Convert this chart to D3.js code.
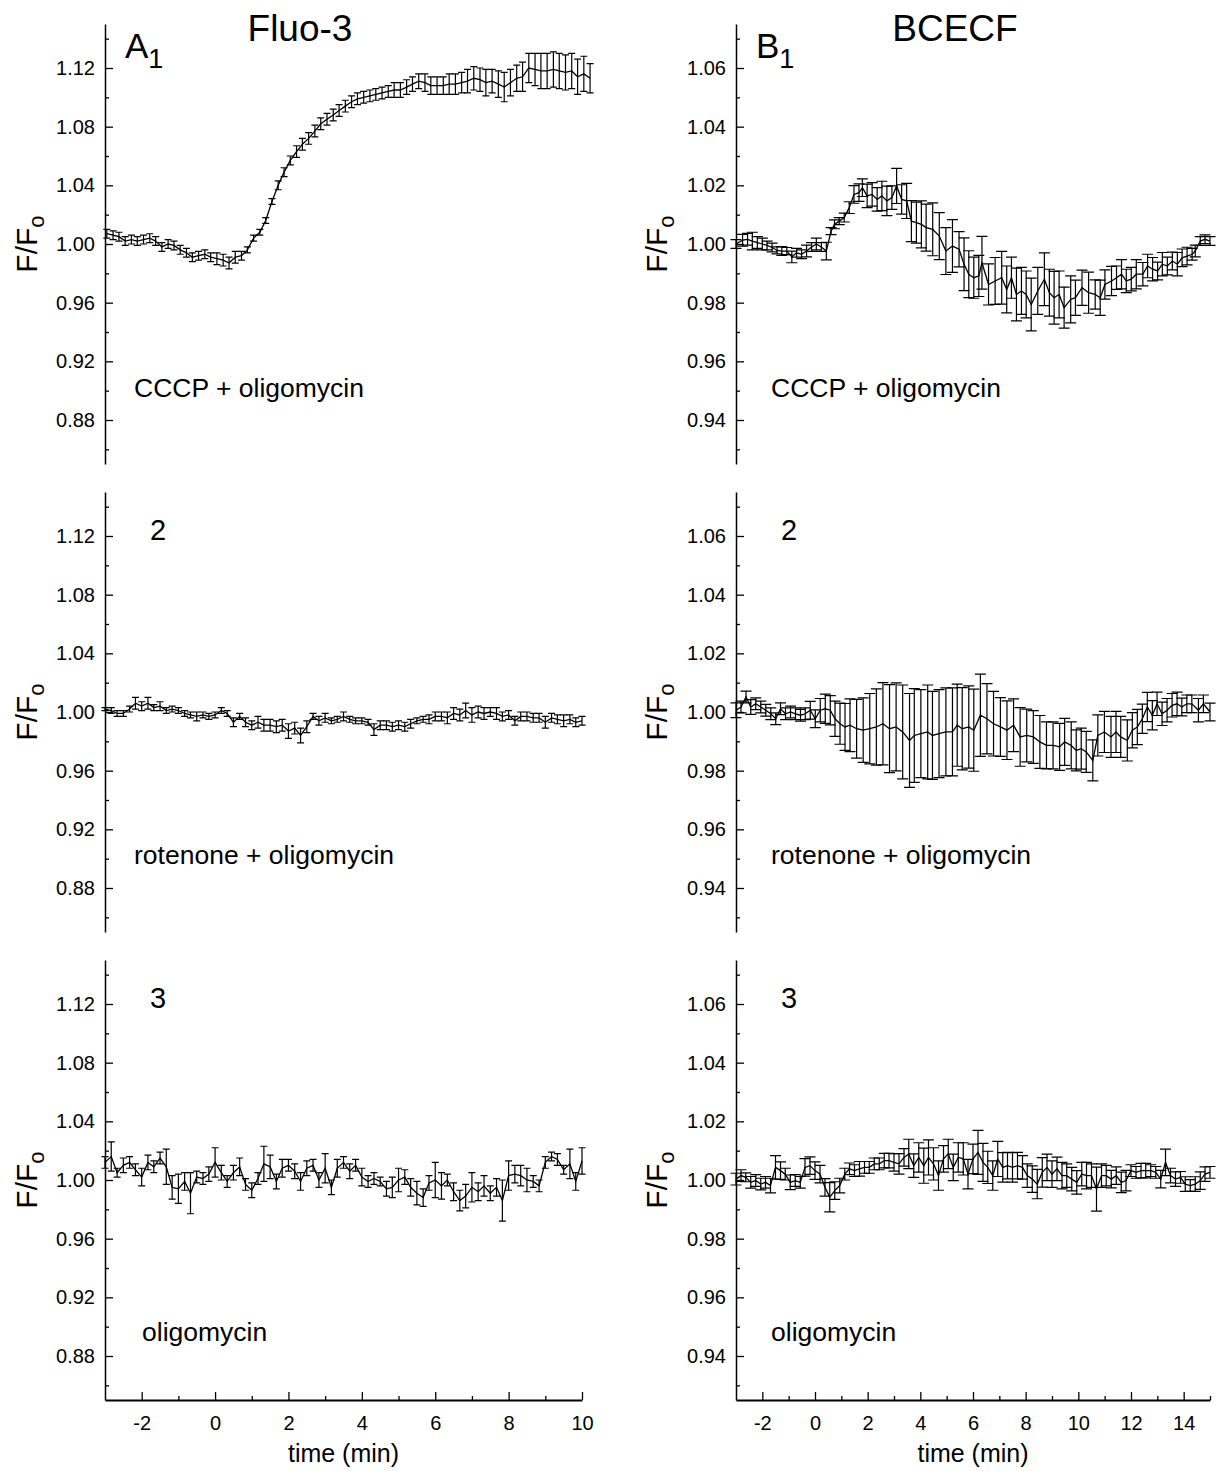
<!DOCTYPE html>
<html>
<head>
<meta charset="utf-8">
<script src="https://cdn.jsdelivr.net/npm/d3@7"></script>
<style>
  body { margin: 0; background: #fff; }
  svg text { font-family: "Liberation Sans", Arial, sans-serif; fill: #000; }
</style>
</head>
<body>
<div id="fig"></div>
<script>
// ---- data ----
// Fluo-3, sampling times (min)
var a1Times = [-2.95,-2.78,-2.62,-2.45,-2.28,-2.12,-1.95,-1.78,-1.62,-1.45,
  -1.28,-1.12,-0.95,-0.78,-0.62,-0.45,-0.28,-0.12,0.05,0.22,
  0.38,0.55,0.72,0.88,1.05,1.22,1.38,1.55,1.72,1.88,
  2.05,2.22,2.38,2.55,2.72,2.88,3.05,3.22,3.38,3.55,
  3.72,3.88,4.05,4.22,4.38,4.55,4.72,4.88,5.05,5.22,
  5.38,5.55,5.72,5.88,6.05,6.22,6.38,6.55,6.72,6.88,
  7.05,7.22,7.38,7.55,7.72,7.88,8.05,8.22,8.38,8.55,
  8.72,8.88,9.05,9.22,9.38,9.55,9.72,9.88,10.05,10.22];
var fluoTimes = [-3,-2.83,-2.67,-2.5,-2.33,-2.17,-2,-1.83,-1.67,-1.5,
  -1.33,-1.17,-1,-0.83,-0.67,-0.5,-0.33,-0.17,0,0.17,
  0.33,0.5,0.67,0.83,1,1.17,1.33,1.5,1.67,1.83,
  2,2.17,2.33,2.5,2.67,2.83,3,3.17,3.33,3.5,
  3.67,3.83,4,4.17,4.33,4.5,4.67,4.83,5,5.17,
  5.33,5.5,5.67,5.83,6,6.17,6.33,6.5,6.67,6.83,
  7,7.17,7.33,7.5,7.67,7.83,8,8.17,8.33,8.5,
  8.67,8.83,9,9.17,9.33,9.5,9.67,9.83,10];

var a1Mean = [1.007,1.006,1.005,1.002,1.003,1.002,1.003,1.004,1.002,0.998,
  1.000,0.999,0.996,0.994,0.991,0.992,0.993,0.991,0.990,0.989,
  0.987,0.991,0.992,0.996,1.004,1.008,1.016,1.029,1.040,1.049,
  1.057,1.063,1.068,1.072,1.077,1.082,1.085,1.088,1.091,1.094,
  1.097,1.099,1.100,1.101,1.102,1.103,1.104,1.105,1.105,1.107,
  1.109,1.111,1.110,1.108,1.108,1.108,1.109,1.109,1.110,1.111,
  1.113,1.112,1.110,1.111,1.109,1.107,1.110,1.113,1.114,1.120,
  1.119,1.118,1.118,1.119,1.118,1.117,1.118,1.114,1.116,1.113];
var a1Sem = [0.003,0.003,0.003,0.003,0.003,0.003,0.003,0.003,0.003,0.003,
  0.003,0.003,0.003,0.003,0.003,0.003,0.003,0.003,0.004,0.004,
  0.004,0.004,0.003,0.002,0.002,0.002,0.002,0.002,0.003,0.003,
  0.003,0.004,0.004,0.004,0.004,0.004,0.004,0.004,0.004,0.004,
  0.004,0.004,0.004,0.004,0.004,0.004,0.004,0.005,0.005,0.005,
  0.005,0.005,0.006,0.006,0.006,0.006,0.007,0.007,0.007,0.008,
  0.008,0.008,0.009,0.008,0.009,0.010,0.009,0.009,0.010,0.010,
  0.011,0.012,0.012,0.012,0.012,0.012,0.012,0.012,0.012,0.010];

var a2Mean = [1.002,1.001,0.999,0.999,1.002,1.006,1.004,1.006,1.003,1.004,
  1.001,1.002,1.001,0.999,0.998,0.997,0.998,0.997,0.998,1.001,
  0.999,0.993,0.997,0.993,0.991,0.993,0.991,0.991,0.990,0.991,
  0.987,0.989,0.984,0.990,0.997,0.994,0.996,0.994,0.995,0.997,
  0.995,0.994,0.994,0.993,0.988,0.991,0.991,0.990,0.991,0.990,
  0.992,0.994,0.995,0.995,0.997,0.997,0.996,0.999,0.998,1.001,
  0.998,1.000,0.999,1.000,0.999,0.997,0.998,0.994,0.997,0.997,
  0.996,0.996,0.993,0.996,0.995,0.994,0.995,0.993,0.994];
var a2Sem = [0.001,0.002,0.002,0.002,0.002,0.004,0.003,0.004,0.002,0.003,
  0.002,0.002,0.002,0.002,0.002,0.003,0.002,0.002,0.002,0.002,
  0.002,0.003,0.002,0.003,0.003,0.004,0.004,0.004,0.004,0.004,
  0.005,0.004,0.005,0.004,0.002,0.003,0.003,0.002,0.002,0.003,
  0.002,0.002,0.002,0.002,0.004,0.003,0.003,0.003,0.003,0.003,
  0.003,0.002,0.002,0.003,0.003,0.003,0.004,0.004,0.004,0.005,
  0.005,0.004,0.004,0.003,0.004,0.003,0.003,0.003,0.003,0.003,
  0.003,0.003,0.004,0.003,0.003,0.004,0.003,0.003,0.003];

var a3Mean = [1.012,1.016,1.005,1.010,1.012,1.007,1.002,1.012,1.009,1.015,
  1.009,0.995,0.994,0.999,0.991,1.002,1.001,1.004,1.012,1.005,
  0.999,1.005,1.009,0.997,0.993,1.001,1.011,1.009,0.999,1.008,
  1.010,1.006,0.999,1.008,1.010,1.000,1.008,0.995,1.008,1.012,
  1.006,1.010,1.002,0.999,1.001,0.999,0.994,0.995,1.000,1.002,
  0.995,0.991,0.988,0.998,1.000,0.996,1.000,0.992,0.986,0.989,
  0.995,0.992,0.996,0.991,0.995,0.986,1.003,1.004,1.003,1.000,
  0.999,0.996,1.012,1.016,1.014,1.007,1.011,0.999,1.013];
var a3Sem = [0.004,0.010,0.003,0.005,0.004,0.004,0.006,0.005,0.004,0.004,
  0.012,0.008,0.010,0.006,0.014,0.004,0.004,0.005,0.010,0.005,
  0.004,0.005,0.006,0.004,0.005,0.004,0.012,0.008,0.005,0.006,
  0.004,0.005,0.006,0.005,0.004,0.005,0.010,0.005,0.006,0.004,
  0.005,0.004,0.006,0.004,0.004,0.003,0.005,0.007,0.008,0.005,
  0.006,0.008,0.006,0.005,0.012,0.009,0.004,0.006,0.007,0.008,
  0.010,0.006,0.007,0.005,0.006,0.014,0.010,0.006,0.007,0.008,
  0.004,0.004,0.004,0.003,0.004,0.003,0.010,0.006,0.009];

// BCECF
var b1Times = [-3.00,-2.75,-2.56,-2.38,-2.19,-2.00,-1.82,-1.63,-1.44,-1.26,
  -1.07,-0.88,-0.70,-0.51,-0.32,-0.13,0.05,0.24,0.43,0.61,
  0.74,0.92,1.11,1.30,1.48,1.67,1.80,1.98,2.17,2.36,
  2.54,2.73,2.92,3.10,3.29,3.48,3.66,3.85,4.04,4.22,
  4.47,4.72,4.97,5.22,5.47,5.66,5.84,6.03,6.22,6.34,
  6.59,6.84,7.09,7.28,7.46,7.65,7.84,8.02,8.21,8.46,
  8.71,8.90,9.08,9.27,9.46,9.71,9.89,10.14,10.39,10.64,
  10.83,11.01,11.26,11.45,11.64,11.82,12.01,12.20,12.45,12.63,
  12.82,13.01,13.19,13.38,13.57,13.76,13.94,14.13,14.32,14.44,
  14.63,14.81,15.00];
var b1Mean = [1.0000,1.0013,1.0016,1.0010,1.0005,1.0000,0.9995,0.9988,0.9978,0.9976,
  0.9976,0.9956,0.9970,0.9965,0.9976,0.9990,1.0000,0.9990,0.9976,1.0044,
  1.0067,1.0078,1.0090,1.0124,1.0169,1.0175,1.0192,1.0164,1.0169,1.0152,
  1.0164,1.0147,1.0158,1.0198,1.0152,1.0147,1.0078,1.0073,1.0067,1.0056,
  1.0050,1.0027,0.9976,0.9993,0.9982,0.9931,0.9897,0.9885,0.9891,0.9936,
  0.9862,0.9874,0.9885,0.9845,0.9885,0.9828,0.9840,0.9828,0.9794,0.9840,
  0.9880,0.9834,0.9817,0.9828,0.9783,0.9811,0.9817,0.9851,0.9834,0.9828,
  0.9817,0.9862,0.9874,0.9885,0.9897,0.9874,0.9880,0.9897,0.9897,0.9925,
  0.9914,0.9908,0.9931,0.9925,0.9942,0.9931,0.9953,0.9959,0.9965,0.9976,
  1.0010,1.0016,1.0010];
var b1Sem = [0.0015,0.002,0.002,0.003,0.002,0.002,0.0015,0.0015,0.0012,0.0015,
  0.0012,0.002,0.0015,0.0015,0.002,0.0015,0.002,0.0015,0.003,0.0012,
  0.0015,0.0012,0.0015,0.002,0.003,0.003,0.003,0.004,0.004,0.004,
  0.005,0.005,0.004,0.006,0.005,0.006,0.007,0.007,0.008,0.008,
  0.009,0.008,0.008,0.009,0.006,0.009,0.008,0.007,0.007,0.009,
  0.007,0.008,0.009,0.008,0.007,0.009,0.008,0.008,0.009,0.008,
  0.009,0.008,0.009,0.008,0.007,0.008,0.006,0.006,0.007,0.005,
  0.006,0.005,0.005,0.004,0.005,0.004,0.004,0.005,0.004,0.004,
  0.004,0.003,0.004,0.003,0.003,0.004,0.003,0.003,0.002,0.002,
  0.0015,0.0015,0.0015];

var b2Times = [-3.00,-2.81,-2.62,-2.44,-2.25,-2.06,-1.87,-1.68,-1.49,-1.31,
  -1.12,-0.93,-0.74,-0.55,-0.37,-0.18,0.01,0.20,0.39,0.58,
  0.76,0.95,1.14,1.33,1.58,1.83,2.08,2.33,2.58,2.83,
  3.08,3.33,3.59,3.77,4.02,4.28,4.46,4.71,4.97,5.22,
  5.40,5.59,5.84,6.03,6.28,6.53,6.78,7.04,7.29,7.54,
  7.79,8.04,8.29,8.54,8.79,9.04,9.29,9.48,9.73,9.92,
  10.11,10.30,10.55,10.74,10.99,11.24,11.43,11.61,11.86,12.05,
  12.24,12.43,12.62,12.81,12.99,13.18,13.37,13.56,13.75,13.93,
  14.12,14.31,14.56,14.75,15.00];
var b2Mean = [1.0006,1.0017,1.0051,1.0017,1.0028,1.0017,1.0006,0.9994,0.9977,1.0011,
  0.9994,1.0000,0.9994,0.9989,0.9994,1.0006,0.9977,1.0006,1.0011,1.0006,
  0.9977,0.9960,0.9949,0.9955,0.9943,0.9938,0.9943,0.9949,0.9960,0.9943,
  0.9949,0.9932,0.9903,0.9920,0.9926,0.9932,0.9920,0.9926,0.9932,0.9932,
  0.9955,0.9943,0.9949,0.9938,0.9989,0.9977,0.9960,0.9949,0.9938,0.9955,
  0.9915,0.9920,0.9915,0.9898,0.9886,0.9886,0.9881,0.9898,0.9886,0.9869,
  0.9875,0.9864,0.9835,0.9920,0.9932,0.9915,0.9932,0.9915,0.9903,0.9938,
  0.9949,0.9977,1.0017,0.9989,1.0028,0.9994,1.0006,1.0023,1.0028,1.0017,
  1.0028,1.0028,1.0006,1.0028,1.0000];
var b2Sem = [0.0025,0.002,0.002,0.0025,0.002,0.002,0.002,0.002,0.002,0.002,
  0.002,0.002,0.002,0.002,0.002,0.003,0.003,0.004,0.005,0.005,
  0.006,0.007,0.008,0.009,0.010,0.011,0.012,0.013,0.014,0.015,
  0.015,0.016,0.016,0.016,0.015,0.016,0.015,0.015,0.015,0.015,
  0.014,0.014,0.014,0.014,0.014,0.012,0.011,0.010,0.010,0.009,
  0.010,0.009,0.009,0.009,0.008,0.008,0.008,0.008,0.008,0.007,
  0.007,0.007,0.007,0.007,0.007,0.007,0.007,0.007,0.007,0.006,
  0.006,0.005,0.005,0.005,0.004,0.004,0.004,0.004,0.004,0.003,
  0.003,0.003,0.004,0.003,0.003];

var b3Times = [-3.00,-2.81,-2.63,-2.44,-2.25,-2.06,-1.88,-1.69,-1.50,-1.31,
  -1.13,-0.94,-0.75,-0.56,-0.38,-0.19,0.00,0.19,0.38,0.56,
  0.75,0.94,1.13,1.31,1.50,1.69,1.88,2.06,2.25,2.44,
  2.63,2.81,3.00,3.19,3.38,3.56,3.75,3.94,4.13,4.31,
  4.50,4.69,4.88,5.06,5.25,5.44,5.63,5.81,6.00,6.19,
  6.38,6.56,6.75,6.94,7.13,7.31,7.50,7.69,7.88,8.06,
  8.25,8.44,8.63,8.81,9.00,9.19,9.38,9.56,9.75,9.94,
  10.13,10.31,10.50,10.69,10.88,11.06,11.25,11.44,11.63,11.81,
  12.00,12.19,12.38,12.56,12.75,12.94,13.13,13.31,13.50,13.69,
  13.88,14.06,14.25,14.44,14.63,14.81,15.00];
var b3Mean = [1.0003,1.0015,1.0009,0.9992,0.9998,0.9986,0.9992,0.9981,1.0043,1.0032,
  1.0020,0.9992,0.9998,0.9992,1.0043,1.0049,1.0032,1.0020,0.9975,0.9941,
  0.9964,0.9981,1.0020,1.0038,1.0032,1.0038,1.0043,1.0043,1.0055,1.0055,
  1.0066,1.0066,1.0060,1.0055,1.0077,1.0089,1.0049,1.0077,1.0049,1.0077,
  1.0055,1.0015,1.0072,1.0089,1.0043,1.0077,1.0072,1.0020,1.0072,1.0094,
  1.0060,1.0043,1.0015,1.0072,1.0043,1.0049,1.0043,1.0049,1.0043,1.0015,
  1.0003,0.9986,1.0026,1.0043,1.0020,1.0038,1.0015,1.0015,1.0003,0.9992,
  1.0020,1.0015,1.0015,0.9969,1.0015,1.0015,1.0003,1.0015,0.9992,0.9998,
  1.0032,1.0026,1.0032,1.0032,1.0032,1.0026,1.0003,1.0060,1.0015,1.0003,
  1.0009,0.9986,0.9981,0.9986,0.9998,1.0020,1.0026];
var b3Sem = [0.0020,0.0020,0.0015,0.0020,0.0020,0.0020,0.0020,0.0025,0.0040,0.0030,
  0.0020,0.0025,0.0020,0.0020,0.0030,0.0030,0.0030,0.0030,0.0030,0.0050,
  0.0030,0.0025,0.0020,0.0020,0.0020,0.0025,0.0020,0.0020,0.0020,0.0020,
  0.0025,0.0025,0.0030,0.0035,0.0030,0.0050,0.0040,0.0050,0.0060,0.0060,
  0.0055,0.0050,0.0045,0.0050,0.0045,0.0050,0.0055,0.0050,0.0050,0.0075,
  0.0065,0.0055,0.0050,0.0060,0.0050,0.0045,0.0050,0.0045,0.0040,0.0040,
  0.0045,0.0050,0.0050,0.0045,0.0045,0.0040,0.0045,0.0040,0.0040,0.0040,
  0.0040,0.0045,0.0040,0.0075,0.0040,0.0035,0.0030,0.0030,0.0035,0.0035,
  0.0020,0.0020,0.0025,0.0025,0.0020,0.0020,0.0030,0.0045,0.0025,0.0025,
  0.0020,0.0025,0.0020,0.0025,0.0030,0.0025,0.0020];

// axis ticks
var fluoTicks = [0.88, 0.92, 0.96, 1.00, 1.04, 1.08, 1.12];
var fluoMinor = [0.86, 0.90, 0.94, 0.98, 1.02, 1.06, 1.10, 1.14];
var bcecfTicks = [0.94, 0.96, 0.98, 1.00, 1.02, 1.04, 1.06];
var bcecfMinor = [0.93, 0.95, 0.97, 0.99, 1.01, 1.03, 1.05, 1.07];
var fluoTimeTicks = [-2, 0, 2, 4, 6, 8, 10];
var fluoTimeMinor = [-1, 1, 3, 5, 7, 9];
var bcecfTimeTicks = [-2, 0, 2, 4, 6, 8, 10, 12, 14];
var bcecfTimeMinor = [-1, 1, 3, 5, 7, 9, 11, 13, 15];

var dyes = ["Fluo-3", "BCECF"];
var treatments = ["CCCP + oligomycin", "rotenone + oligomycin", "oligomycin"];

// ---- layout ----
var width = 1221, height = 1471;
var rowTop = [24, 492, 960], rowH = 440;
var cols = [
  { x0: 105, x1: 582, xDomain: [-3, 10], yDomain: [0.85, 1.15], ticks: fluoTicks, minor: fluoMinor,
    tTicks: fluoTimeTicks, tMinor: fluoTimeMinor, cap: 3.5, letter: "A", title: dyes[0], titleX: 300,
    ylabX: 37, annX: [134, 134, 142] },
  { x0: 736, x1: 1210, xDomain: [-3, 15], yDomain: [0.925, 1.075], ticks: bcecfTicks, minor: bcecfMinor,
    tTicks: bcecfTimeTicks, tMinor: bcecfTimeMinor, cap: 5.5, letter: "B", title: dyes[1], titleX: 955,
    ylabX: 667, annX: [771, 771, 771] }
];
var series = [
  [[a1Times, a1Mean, a1Sem], [fluoTimes, a2Mean, a2Sem], [fluoTimes, a3Mean, a3Sem]],
  [[b1Times, b1Mean, b1Sem], [b2Times, b2Mean, b2Sem], [b3Times, b3Mean, b3Sem]]
];
var annY = [397, 864, 1341];

var svg = d3.select("#fig").append("svg")
  .attr("width", width)
  .attr("height", height);

cols.forEach(function (c, ci) {
  var x = d3.scaleLinear().domain(c.xDomain).range([c.x0, c.x1]);

  rowTop.forEach(function (top, ri) {
    var y = d3.scaleLinear().domain(c.yDomain).range([top + rowH, top]);
    var g = svg.append("g");

    // y axis, ticks pointing inward
    g.append("g")
      .attr("transform", "translate(" + c.x0 + ",0)")
      .call(d3.axisLeft(y).tickValues(c.ticks).tickSizeInner(-8).tickSizeOuter(0)
        .tickPadding(10).tickFormat(d3.format(".2f")))
      .call(function (a) {
        a.select(".domain").attr("stroke-width", 1.5);
        a.selectAll(".tick line").attr("stroke-width", 1.3);
        a.selectAll("text").attr("font-size", 20).attr("font-family", null);
      });
    g.append("g")
      .attr("transform", "translate(" + c.x0 + ",0)")
      .call(d3.axisLeft(y).tickValues(c.minor).tickSize(-4).tickFormat(""))
      .call(function (a) {
        a.select(".domain").remove();
        a.selectAll(".tick line").attr("stroke-width", 1.3);
      });

    // x axis only on the bottom row
    if (ri === 2) {
      g.append("g")
        .attr("transform", "translate(0," + (top + rowH) + ")")
        .call(d3.axisBottom(x).tickValues(c.tTicks).tickSizeInner(-8).tickSizeOuter(0)
          .tickPadding(16).tickFormat(function (d) { return String(d); }))
        .call(function (a) {
          a.select(".domain").attr("stroke-width", 2);
          a.selectAll(".tick line").attr("stroke-width", 1.3);
          a.selectAll("text").attr("font-size", 20).attr("font-family", null);
        });
      g.append("g")
        .attr("transform", "translate(0," + (top + rowH) + ")")
        .call(d3.axisBottom(x).tickValues(c.tMinor).tickSize(-4).tickFormat(""))
        .call(function (a) {
          a.select(".domain").remove();
          a.selectAll(".tick line").attr("stroke-width", 1.3);
        });
      g.append("text")
        .attr("x", (c.x0 + c.x1) / 2)
        .attr("y", 1462)
        .attr("text-anchor", "middle")
        .attr("font-size", 25)
        .text("time (min)");
    }

    // y label F/Fo
    var yl = g.append("text")
      .attr("transform", "translate(" + c.ylabX + "," + (top + rowH / 2) + ") rotate(-90)")
      .attr("text-anchor", "middle")
      .attr("font-size", 30);
    yl.append("tspan").text("F/F");
    yl.append("tspan").attr("font-size", 22).attr("dy", 7).text("o");

    // data
    var s = series[ci][ri];
    var pts = s[0].map(function (t, i) { return { t: t, m: s[1][i], e: s[2][i] }; });

    var bars = g.append("g").attr("stroke", "#000").attr("stroke-width", 1.2).attr("fill", "none");
    bars.selectAll("path")
      .data(pts)
      .enter()
      .append("path")
      .attr("d", function (d) {
        var px = x(d.t), hi = y(d.m + d.e), lo = y(d.m - d.e);
        return "M" + px + "," + hi + "V" + lo +
          "M" + (px - c.cap) + "," + hi + "H" + (px + c.cap) +
          "M" + (px - c.cap) + "," + lo + "H" + (px + c.cap);
      });

    g.append("path")
      .datum(pts)
      .attr("fill", "none")
      .attr("stroke", "#000")
      .attr("stroke-width", 1.3)
      .attr("d", d3.line().x(function (d) { return x(d.t); }).y(function (d) { return y(d.m); }));

    // treatment annotation
    g.append("text")
      .attr("x", c.annX[ri])
      .attr("y", annY[ri])
      .attr("font-size", 26.5)
      .text(treatments[ri]);

    // panel label
    var pl = g.append("text")
      .attr("x", ri === 0 ? c.x0 + 20 : c.x0 + 45)
      .attr("y", ri === 0 ? top + 34 : top + 48)
      .attr("font-size", ri === 0 ? 35 : 29);
    if (ri === 0) {
      pl.append("tspan").text(c.letter);
      pl.append("tspan").attr("font-size", 27).attr("dy", 10).text("1");
    } else {
      pl.text(String(ri + 1));
    }
  });

  // dye title
  svg.append("text")
    .attr("x", c.titleX)
    .attr("y", 41)
    .attr("text-anchor", "middle")
    .attr("font-size", 37)
    .text(c.title);
});
</script>
</body>
</html>
